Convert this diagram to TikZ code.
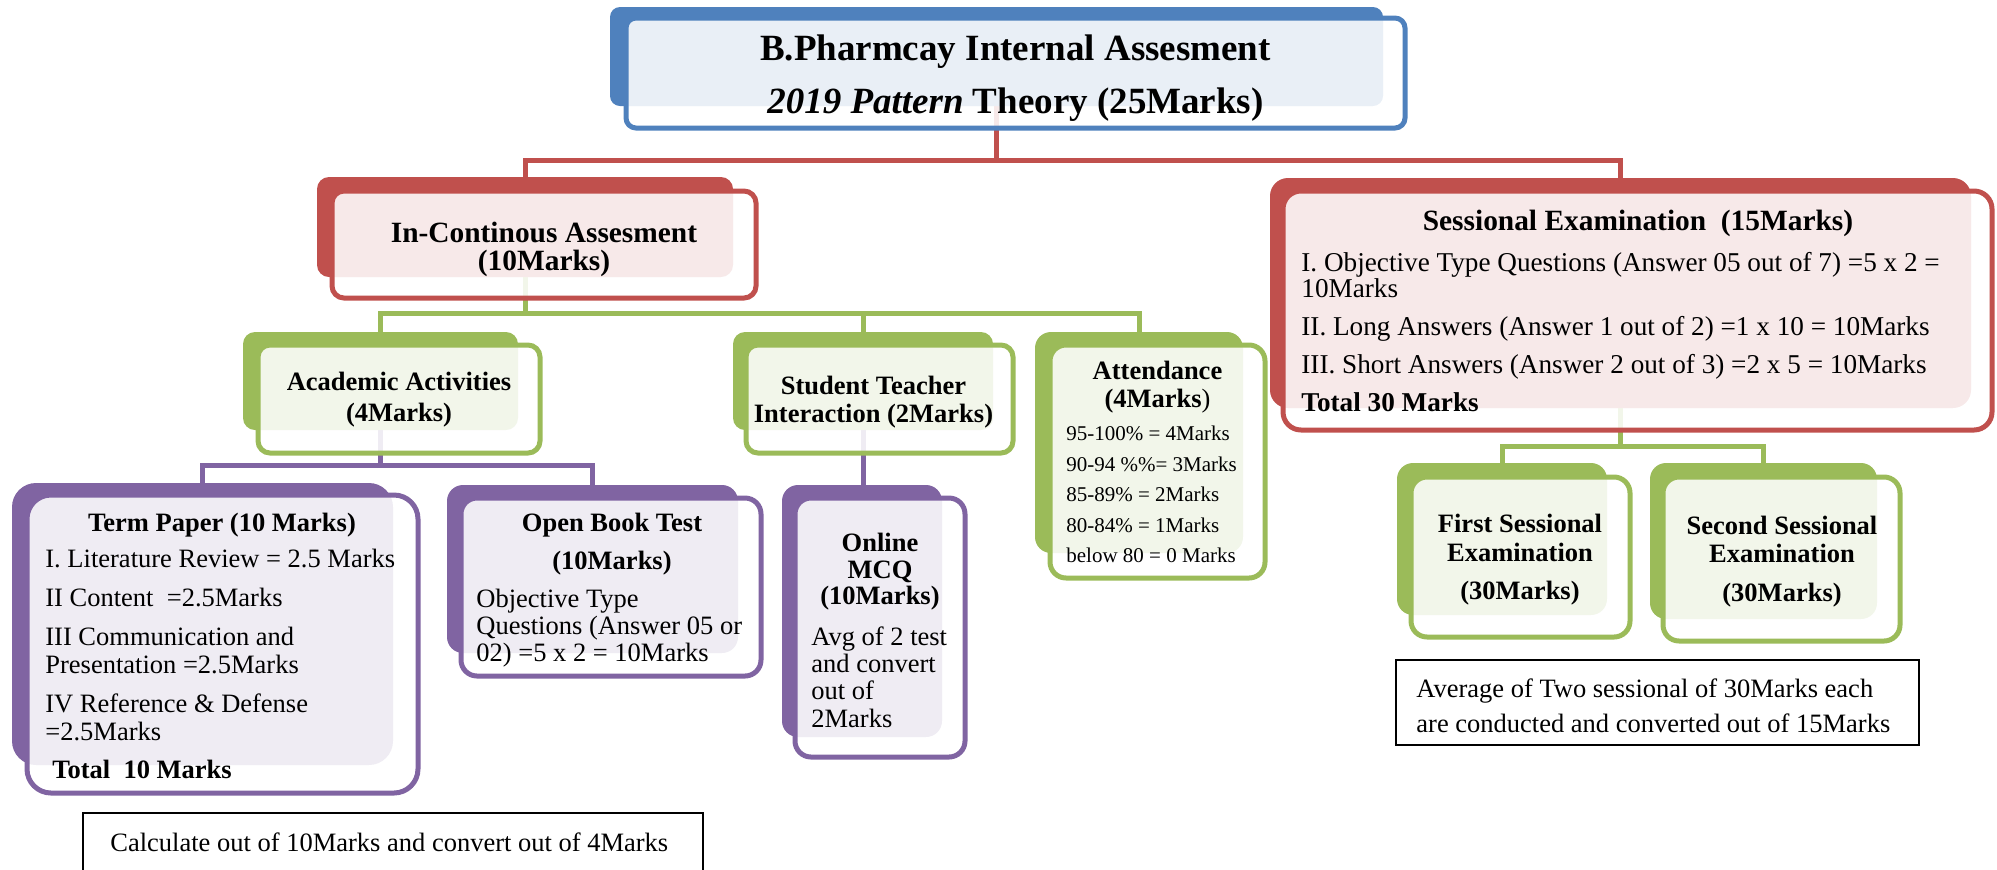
\documentclass[tikz,border=0pt]{standalone}
\usepackage{fontspec}
\setmainfont{Liberation Serif}
\usetikzlibrary{fit,backgrounds}
\definecolor{blueA}{HTML}{4F81BD}
\definecolor{redA}{HTML}{C0504D}
\definecolor{greenA}{HTML}{9BBB59}
\definecolor{purpleA}{HTML}{8064A2}
\newcommand{\fs}[2]{\fontsize{#1}{#2}\selectfont}
\tikzset{
  panelback/.style={fill=#1, rounded corners=6pt, inner sep=0pt, outer sep=0pt},
  panelfront/.style={draw=#1, line width=2.5pt, fill=white, fill opacity=0.88, rounded corners=6pt, inner sep=0pt, outer sep=0pt},
  link/.style={draw=#1, line width=2.5pt},
  headtxt/.style={anchor=north, inner sep=0pt, align=center},
  bodytxt/.style={anchor=north west, inner sep=0pt, align=left},
  notebox/.style={draw=black, line width=0.8pt, inner sep=0pt, outer sep=0pt},
}
\begin{document}
\begin{tikzpicture}[x=0.5pt,y=-0.5pt]
			\useasboundingbox (0,0) rectangle (1997,869);
			% level 0
			\node[panelback=blueA, rounded corners=5pt, fit={(610,7) (1383,106)}] (ttl) {};
			\node[panelfront=blueA, rounded corners=5pt, fit={(626,18) (1405,128)}] (ttl-f) {};
			\node[headtxt, font=\bfseries\fs{18.5}{26.5}] (ttl-t) at (1015.5,34) {B.Pharmcay Internal Assesment\\\textit{2019 Pattern} Theory (25Marks)};
			% level 1
			\node[panelback=redA, fit={(317,177) (733,277)}] (inca) {};
			\node[panelfront=redA, fit={(332,191) (756,298)}] (inca-f) {};
			\node[headtxt, font=\bfseries\fs{14.7}{14}] (inca-t) at (544,222) {In-Continous Assesment\\(10Marks)};
			\node[panelback=redA, rounded corners=9pt, fit={(1270,178) (1971,408)}] (sess) {};
			\node[panelfront=redA, rounded corners=9pt, fit={(1283,191) (1992,430)}] (sess-f) {};
			\node[headtxt, font=\bfseries\fs{14.7}{14}] (sess-t) at (1638,210) {Sessional Examination\ \ (15Marks)};
			\node[bodytxt, font=\fs{13.6}{13}] (sess-b) at (1301,252) {I. Objective Type Questions (Answer 05 out of 7) =5 x 2 =\\10Marks\\[6pt]II. Long Answers (Answer 1 out of 2) =1 x 10 = 10Marks\\[6pt]III. Short Answers (Answer 2 out of 3) =2 x 5 = 10Marks\\[6pt]\textbf{Total 30 Marks}};
			% level 2
			\node[panelback=greenA, fit={(243,332) (518,430)}] (acad) {};
			\node[panelfront=greenA, fit={(258,345) (540,453)}] (acad-f) {};
			\node[headtxt, font=\bfseries\fs{13.25}{15.5}] (acad-t) at (399,372) {Academic Activities\\(4Marks)};
			\node[panelback=greenA, fit={(733,332) (993,430)}] (stud) {};
			\node[panelfront=greenA, fit={(746,345) (1013,453)}] (stud-f) {};
			\node[headtxt, font=\bfseries\fs{13.25}{14}] (stud-t) at (873.5,376) {Student Teacher\\Interaction (2Marks)};
			\node[panelback=greenA, rounded corners=8pt, fit={(1035,332) (1243,553)}] (att) {};
			\node[panelfront=greenA, rounded corners=8pt, fit={(1050,345) (1265,578)}] (att-f) {};
			\node[headtxt, font=\bfseries\fs{13.25}{14}] (att-t) at (1157.5,361) {Attendance\\(4Marks\textmd{)}};
			\node[bodytxt, font=\fs{10.5}{15.25}] (att-b) at (1066,426) {95-100\% = 4Marks\\90-94 \%\%= 3Marks\\85-89\% = 2Marks\\80-84\% = 1Marks\\below 80 = 0 Marks};
			\node[panelback=greenA, rounded corners=8pt, fit={(1397,463) (1607,615)}] (fse) {};
			\node[panelfront=greenA, rounded corners=8pt, fit={(1411,477) (1630,637)}] (fse-f) {};
			\node[headtxt, font=\bfseries\fs{13.25}{14.5}] (fse-t) at (1520,514) {First Sessional\\Examination\\[4.5pt](30Marks)};
			\node[panelback=greenA, rounded corners=8pt, fit={(1650,463) (1877,619)}] (sse) {};
			\node[panelfront=greenA, rounded corners=8pt, fit={(1663,477) (1900,641)}] (sse-f) {};
			\node[headtxt, font=\bfseries\fs{13.25}{14}] (sse-t) at (1782,516) {Second Sessional\\Examination\\[5.5pt](30Marks)};
			% level 3
			\node[panelback=purpleA, rounded corners=12pt, fit={(12,483) (393,765)}] (term) {};
			\node[panelfront=purpleA, rounded corners=12pt, fit={(27,495) (418,793)}] (term-f) {};
			\node[headtxt, font=\bfseries\fs{13.25}{14}] (term-t) at (222,513) {Term Paper (10 Marks)};
			\node[bodytxt, font=\fs{13.25}{14}] (term-b) at (45,549) {I. Literature Review = 2.5 Marks\\[5.5pt]II Content\ \ =2.5Marks\\[5.5pt]III Communication and\\Presentation =2.5Marks\\[5.5pt]IV Reference \& Defense\\=2.5Marks\\[5pt]\hspace{3.5pt}\textbf{Total\ \ 10 Marks}};
			\node[panelback=purpleA, rounded corners=8pt, fit={(447,485) (738,653)}] (open) {};
			\node[panelfront=purpleA, rounded corners=8pt, fit={(461,498) (761,676)}] (open-f) {};
			\node[headtxt, font=\bfseries\fs{13.25}{19}] (open-t) at (612,513) {Open Book Test\\(10Marks)};
			\node[bodytxt, font=\fs{13.25}{13.5}] (open-b) at (476,589) {Objective Type\\Questions (Answer 05 or\\02) =5 x 2 = 10Marks};
			\node[panelback=purpleA, rounded corners=8pt, fit={(782,485) (942,737)}] (onl) {};
			\node[panelfront=purpleA, rounded corners=8pt, fit={(795,498) (965,757)}] (onl-f) {};
			\node[headtxt, font=\bfseries\fs{13.25}{13.25}] (onl-t) at (880,533) {Online\\MCQ\\(10Marks)};
			\node[bodytxt, font=\fs{13.25}{13.7}] (onl-b) at (811,626) {Avg of 2 test\\and convert\\out of\\2Marks};
			% notes
			\node[notebox, fit={(83,813) (703,880)}] (nt1) {};
			\node[bodytxt, font=\fs{13.25}{14}] (nt1-t) at (110,832) {Calculate out of 10Marks and convert out of 4Marks};
			\node[notebox, fit={(1396,660) (1919,745)}] (nt2) {};
			\node[bodytxt, font=\fs{13.25}{17.5}] (nt2-t) at (1416,678) {Average of Two sessional of 30Marks each\\are conducted and converted out of 15Marks};
			% connectors
			\begin{scope}[on background layer]
			\coordinate (redbar) at (0,160);
			\coordinate (grnbar) at (0,313);
			\coordinate (purbar) at (0,465);
			\coordinate (sesbar) at (0,446);
			\draw[link=redA] (ttl.center) -- (ttl.center |- redbar) -| (inca.north);
			\draw[link=redA] (ttl.center |- redbar) -| (sess.north);
			\draw[link=greenA] (inca.center) -- (inca.center |- grnbar) -| (acad.north);
			\draw[link=greenA] (inca.center |- grnbar) -| (stud.north);
			\draw[link=greenA] (inca.center |- grnbar) -| (att.north);
			\draw[link=purpleA] (acad.center) -- (acad.center |- purbar) -| (term.north);
			\draw[link=purpleA] (acad.center |- purbar) -| (open.north);
			\draw[link=purpleA] (stud.center) -- (stud.center |- onl.north);
			\draw[link=greenA] (sess.center) -- (sess.center |- sesbar) -| (fse.north);
			\draw[link=greenA] (sess.center |- sesbar) -| (sse.north);
			\end{scope}
		\end{tikzpicture}
\end{document}
